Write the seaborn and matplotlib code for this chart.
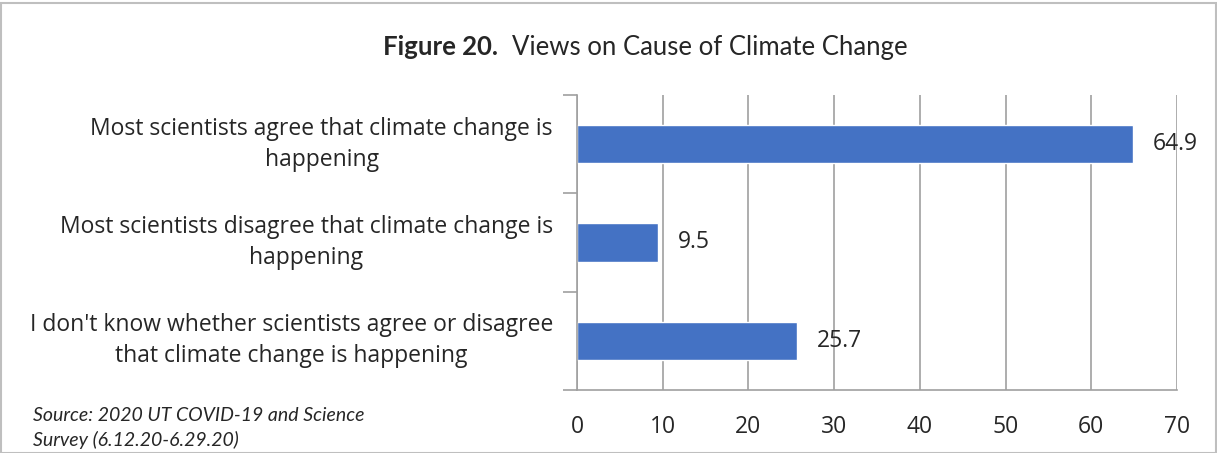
import pandas as pd
import seaborn as sns
import matplotlib.pyplot as plt

categories = ["Most scientists agree that climate change is\nhappening",
              "Most scientists disagree that climate change is\nhappening",
              "I don't know whether scientists agree or disagree\nthat climate change is happening"]
values = [64.9, 9.5, 25.7]
ticks = [0, 10, 20, 30, 40, 50, 60, 70]

df = pd.DataFrame({"View": categories, "Percent": values})

sns.set_style("white")
plt.rcParams['font.family'] = ['Open Sans', 'DejaVu Sans']

fig = plt.figure(figsize=(12.17, 4.53), dpi=100)
ax = fig.add_axes([577/1217, 1 - 390/453, 600/1217, 295/453])

sns.barplot(data=df, x="Percent", y="View", orient="h", color="#4472C4",
            width=0.39, saturation=1, ax=ax)

ax.set_xlim(0, 70)
ax.set_xticks(ticks)
ax.set_xlabel("")
ax.set_ylabel("")
ax.grid(axis="x", color="#A0A0A0", linewidth=1.2)
ax.set_axisbelow(True)
for s in ["top", "right"]:
    ax.spines[s].set_visible(False)
for s in ["left", "bottom"]:
    ax.spines[s].set_color("#A0A0A0")
    ax.spines[s].set_linewidth(1.2)

# category boundary ticks on the y axis like Excel
ax.set_yticks([-0.5, 0.5, 1.5, 2.5], minor=True)
ax.tick_params(axis="y", which="minor", length=10, color="#A0A0A0", width=1.2, left=True)
ax.tick_params(axis="y", which="major", length=0, labelleft=False)
ax.tick_params(axis="x", length=0, labelsize=16.5, pad=18)

# category labels, centred lines, block ending left of the axis
for i, cat in enumerate(categories):
    ax.text(-0.04, i, cat, transform=ax.get_yaxis_transform(), ha="right", va="center",
            multialignment="center", fontsize=16.5, linespacing=1.4)

for container in ax.containers:
    ax.bar_label(container, fmt="%.1f", padding=14, fontsize=16.5)

fig.text(498/1217, 1 - 47/453, "Figure 20.", ha="right", va="center", fontsize=18.5,
         weight="bold", family=["Lato", "DejaVu Sans"])
fig.text(512/1217, 1 - 47/453, "Views on Cause of Climate Change", ha="left", va="center",
         fontsize=18.5, family=["Lato", "DejaVu Sans"])
fig.text(33/1217, 1 - 428/453, "Source: 2020 UT COVID-19 and Science\nSurvey (6.12.20-6.29.20)",
         ha="left", va="center", fontsize=14, style="italic", linespacing=1.5,
         family=["Lato", "DejaVu Sans"])

border = plt.Rectangle((0.001, 0.0), 0.998, 0.994, transform=fig.transFigure,
                       fill=False, edgecolor="#BFBFBF", linewidth=1.5)
fig.patches.append(border)

fig.savefig("out.png", dpi=100)
